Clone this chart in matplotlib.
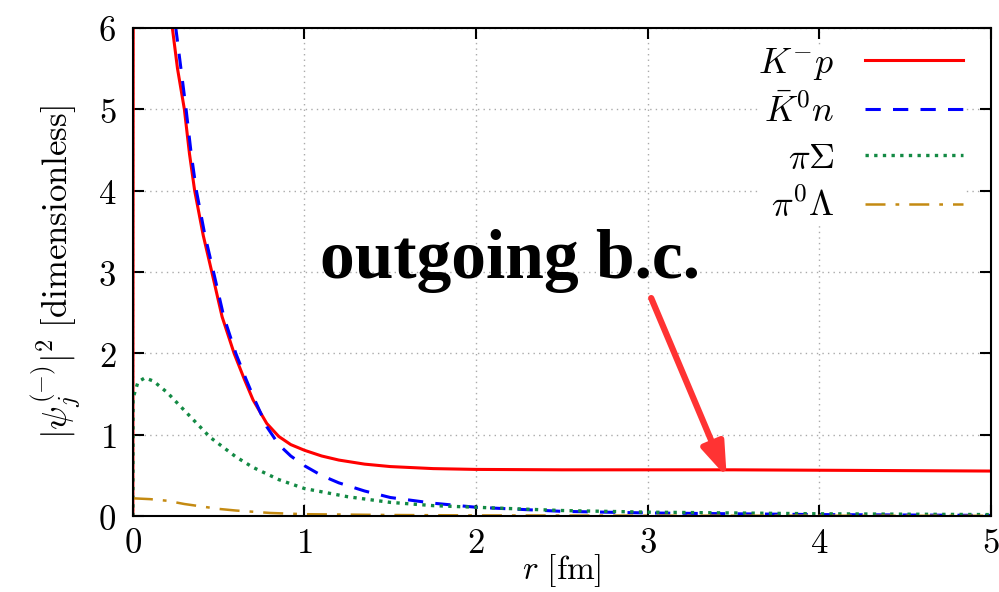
import matplotlib
matplotlib.use("Agg")
import matplotlib.pyplot as plt

plt.rcParams['mathtext.fontset'] = 'cm'
plt.rcParams['font.family'] = 'serif'
plt.rcParams['font.serif'] = ['DejaVu Serif']

# values
r_kp = [0.0, 0.02, 0.1, 0.2, 0.23, 0.26, 0.30, 0.33, 0.36, 0.41, 0.46, 0.52, 0.59, 0.65, 0.70,
        0.78, 0.85, 0.92, 1.0, 1.1, 1.2, 1.35, 1.5, 1.75, 2.0, 2.5, 3.0, 3.5, 4.0, 4.5, 5.0]
v_kp = [0.0, 60.0, 22.0, 7.4, 6.0, 5.5, 5.0, 4.45, 4.0, 3.45, 3.0, 2.45, 2.0, 1.68, 1.43,
        1.14, 0.98, 0.88, 0.81, 0.74, 0.69, 0.64, 0.61, 0.585, 0.575, 0.57, 0.57, 0.57, 0.565, 0.56, 0.555]

r_k0n = [0.1, 0.2, 0.25, 0.28, 0.31, 0.34, 0.37, 0.42, 0.47, 0.53, 0.60, 0.66, 0.71,
         0.78, 0.85, 0.92, 1.0, 1.1, 1.2, 1.35, 1.5, 1.75, 2.0, 2.5, 3.0, 4.0, 5.0]
v_k0n = [24.0, 7.8, 6.0, 5.5, 5.0, 4.45, 4.0, 3.45, 3.0, 2.45, 2.0, 1.68, 1.43,
         1.1, 0.88, 0.74, 0.62, 0.5, 0.41, 0.31, 0.23, 0.16, 0.11, 0.06, 0.04, 0.02, 0.01]

r_pis = [0.0, 0.001, 0.03, 0.07, 0.12, 0.2, 0.3, 0.45, 0.6, 0.7, 0.85, 1.0, 1.25, 1.5,
         1.75, 2.0, 2.5, 3.0, 4.0, 5.0]
v_pis = [0.0, 1.45, 1.65, 1.70, 1.66, 1.52, 1.30, 0.97, 0.73, 0.60, 0.45, 0.34, 0.24, 0.17,
         0.13, 0.11, 0.07, 0.05, 0.03, 0.02]

r_pil = [0.0, 0.1, 0.2, 0.3, 0.4, 0.5, 0.6, 0.8, 1.0, 1.5, 2.0, 3.0, 5.0]
v_pil = [0.22, 0.21, 0.19, 0.15, 0.12, 0.09, 0.07, 0.04, 0.025, 0.015, 0.01, 0.007, 0.005]

labels = [r'$K^{-}p$', r'$\bar{K}^{0}n$', r'$\pi\Sigma$', r'$\pi^{0}\Lambda$']

fig = plt.figure(figsize=(9.99, 5.92), dpi=100)
ax = fig.add_axes([0.133, 0.128, 0.859, 0.825])

ax.plot(r_kp, v_kp, color='#ff0000', lw=2.2, label=labels[0])
ax.plot(r_k0n, v_k0n, color='#0000ff', lw=2.2, dashes=(5, 4), label=labels[1])
ax.plot(r_pis, v_pis, color='#138a44', lw=2.4, linestyle=(0, (1, 1.6)), label=labels[2])
ax.plot(r_pil, v_pil, color='#c48a12', lw=1.8, dashes=(8, 4, 1.5, 4), label=labels[3])

ax.set_xlim(0, 5)
ax.set_ylim(0, 6)
ax.set_xticks(range(6))
ax.set_yticks(range(7))
ax.set_xticklabels([f'${i}$' for i in range(6)])
ax.set_yticklabels([f'${i}$' for i in range(7)])
ax.tick_params(direction='in', length=8, width=1.5, top=True, right=True, labelsize=25)
ax.tick_params(axis='y', pad=12)
ax.tick_params(axis='x', pad=7)
ax.grid(True, color='#aaaaaa', linestyle=(0, (1, 3)), lw=1.0)
for s in ax.spines.values():
    s.set_linewidth(1.5)

ax.set_xlabel(r'$r\ [\mathrm{fm}]$', fontsize=24, labelpad=-6)
ax.set_ylabel(r'$|\psi_j^{(-)}|^2\ [\mathrm{dimensionless}]$', fontsize=25, labelpad=10)

leg = ax.legend(loc='upper right', bbox_to_anchor=(0.988, 1.0), frameon=True,
                markerfirst=False, fontsize=26, handlelength=2.7, borderaxespad=0.5,
                labelspacing=0.33, handletextpad=0.85, borderpad=0.0)
leg.get_frame().set_edgecolor('none')
leg.get_frame().set_facecolor('white')
leg.get_frame().set_alpha(1.0)
for t in leg.get_texts():
    t.set_ha('right')
leg._legend_box.align = 'right'

ax.text(1.09, 2.93, 'outgoing b.c.', fontsize=50, fontweight='bold',
        family='Liberation Serif', ha='left', va='baseline')

ax.annotate('', xy=(3.46, 0.48), xytext=(3.02, 2.68),
            arrowprops=dict(arrowstyle='-|>,head_length=2.0,head_width=0.7',
                            color='#ff3333', lw=4.5, shrinkA=0, shrinkB=0))

fig.savefig('out.png', dpi=100, facecolor='white')
